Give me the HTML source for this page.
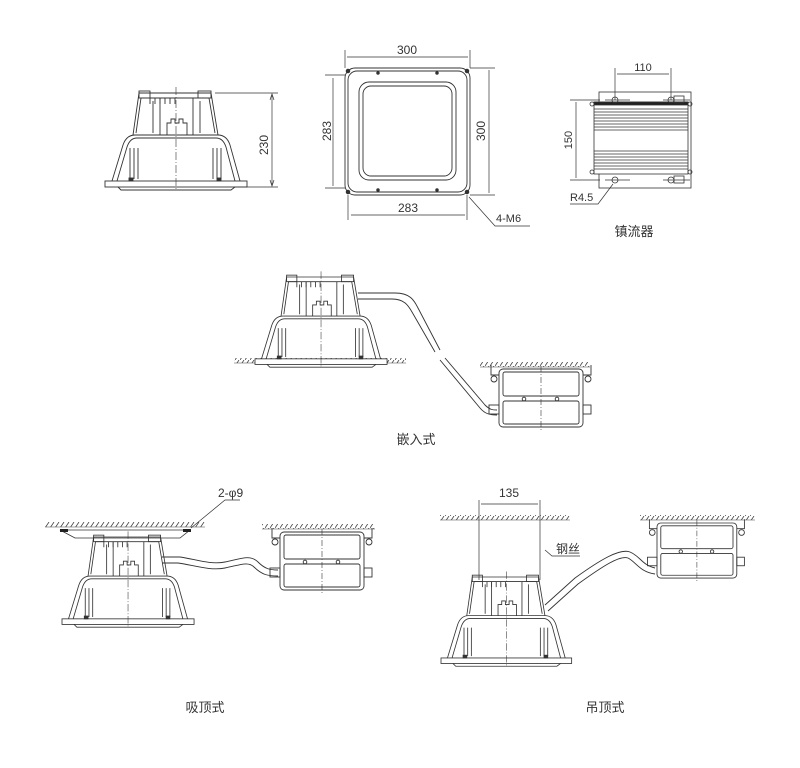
<!DOCTYPE html>
<html><head><meta charset="utf-8"><style>
html,body{margin:0;padding:0;background:#fff;}
svg{display:block;}
text{font-family:"Liberation Sans","Noto Sans CJK SC",sans-serif;fill:#333;}
</style></head><body>
<svg width="800" height="768" viewBox="0 0 800 768" xmlns="http://www.w3.org/2000/svg">
<defs>
<pattern id="h" width="5" height="6" patternUnits="userSpaceOnUse">
<line x1="0" y1="6" x2="4" y2="0" stroke="#444" stroke-width="0.8"/>
</pattern>
<g id="lamp" fill="none" stroke="#333" stroke-width="0.9">
<rect x="0" y="88" width="142" height="6" fill="#fff"/>
<path d="M13 94 L16 97 L126 97 L130 94"/>
<path d="M7 88 L18 52 C20 46 24 42 30 42 L113 42 C119 42 123 46 125 52 L135 88"/>
<path d="M12 88 L22 54 C24 48 27 45 32 45 L111 45 C116 45 119 48 121 54 L130 88"/>
<path d="M28 42 L34 0 L106 0 L113 42"/>
<path d="M31 40 L36 5 L104 5 L110 40"/>
<rect x="34" y="-2" width="11" height="7"/><rect x="93" y="-2" width="13" height="7"/>
<path d="M45 5 v6 M50 5v6 M55 5v6 M60 5v6 M65 5v6 M70 5v6"/>
<path d="M55 5 V42 M88 5 V42 M48 8 V40 M95 8 V40"/>
<path d="M62 42 V30 H66 V26 H70 V30 H74 V26 H78 V30 H82 V42"/>
<path d="M25 55 V86 M29 55 V86 M33 55 V86 M108 55 V86 M112 55 V86 M116 55 V86"/>
<rect x="24" y="85" width="4" height="3" fill="#333"/><rect x="112" y="85" width="4" height="3" fill="#333"/>
<line x1="71" y1="-6" x2="71" y2="98" stroke-dasharray="8 2 1 2" stroke-width="0.6"/>
</g>
<g id="box" fill="none" stroke="#333" stroke-width="0.9">
<rect x="0" y="0" width="84" height="58" rx="4" fill="#fff"/>
<rect x="4" y="3" width="76" height="24" rx="2"/>
<rect x="4" y="32" width="76" height="23" rx="2"/>
<circle cx="25" cy="30" r="1.8"/><circle cx="58" cy="30" r="1.8"/>
<path d="M-8 -4 v10 h8 M92 -4 v10 h-8"/>
<circle cx="-5" cy="10" r="3"/><circle cx="89" cy="10" r="3"/>
<line x1="42" y1="-3" x2="42" y2="62" stroke-dasharray="6 2 1 2" stroke-width="0.6"/>
<rect x="-10" y="36" width="10" height="9"/><rect x="84" y="36" width="8" height="9"/>
</g>
</defs>

<!-- Top-left lamp -->
<use href="#lamp" x="105" y="93"/>
<g stroke="#333" stroke-width="0.7" fill="none">
<line x1="215" y1="93" x2="278" y2="93"/><line x1="235" y1="187" x2="278" y2="187"/>
<line x1="272" y1="95" x2="272" y2="185"/>
<path d="M270 100 L272 94 L274 100 M270 180 L272 186 L274 180" />
</g>
<text x="268" y="145" font-size="12" transform="rotate(-90 268 145)" text-anchor="middle">230</text>

<!-- square panel -->
<g fill="none" stroke="#333" stroke-width="0.9">
<rect x="345" y="68" width="125" height="127" rx="10"/>
<rect x="348" y="71" width="119" height="121" rx="9"/>
<rect x="359" y="82" width="97" height="98" rx="10"/>
<rect x="363" y="86" width="89" height="90" rx="8"/>
<g fill="#333"><circle cx="348" cy="71" r="1.8"/><circle cx="467" cy="71" r="1.8"/><circle cx="348" cy="192" r="1.8"/><circle cx="467" cy="192" r="1.8"/>
<circle cx="378" cy="73" r="1.3"/><circle cx="437" cy="73" r="1.3"/><circle cx="378" cy="190" r="1.3"/><circle cx="437" cy="190" r="1.3"/></g>
</g>
<g stroke="#333" stroke-width="0.7" fill="none">
<line x1="345" y1="50" x2="345" y2="68"/><line x1="470" y1="50" x2="470" y2="68"/>
<line x1="347" y1="57" x2="468" y2="57"/>
<line x1="325" y1="75" x2="345" y2="75"/><line x1="325" y1="188" x2="345" y2="188"/>
<line x1="333" y1="78" x2="333" y2="186"/>
<line x1="470" y1="68" x2="495" y2="68"/><line x1="470" y1="195" x2="495" y2="195"/>
<line x1="489" y1="70" x2="489" y2="193"/>
<line x1="348" y1="195" x2="348" y2="220"/><line x1="467" y1="195" x2="467" y2="220"/>
<line x1="351" y1="215" x2="465" y2="215"/>
<path d="M469 197 L495 226 H530"/>
</g>
<text x="407" y="54" font-size="12" text-anchor="middle">300</text>
<text x="331" y="131" font-size="12" text-anchor="middle" transform="rotate(-90 331 131)">283</text>
<text x="485" y="131" font-size="12" text-anchor="middle" transform="rotate(-90 485 131)">300</text>
<text x="408" y="212" font-size="12" text-anchor="middle">283</text>
<text x="496" y="222" font-size="11">4-M6</text>

<!-- ballast top -->
<g fill="none" stroke="#333" stroke-width="0.8">
<rect x="599" y="92" width="92" height="96"/>
<rect x="594" y="102" width="94" height="72" fill="#fff"/>
<rect x="594" y="102" width="94" height="3" fill="#222"/>
<path d="M594 109H688 M594 112H688 M594 115H688 M594 118H688 M594 121H688 M594 124H688 M594 127H688 M594 130H688"/>
<path d="M594 151H688 M594 154H688 M594 157H688 M594 160H688 M594 163H688 M594 166H688 M594 169H688"/>
<rect x="612" y="97" width="6" height="6" rx="3"/><rect x="612" y="177" width="6" height="6" rx="3"/>
<circle cx="671" cy="100" r="3"/><circle cx="671" cy="180" r="3"/>
<path d="M663 100 H690 M663 180 H690 M605 100 H630 M605 180 H630"/>
<rect x="674" y="96" width="10" height="7"/><rect x="674" y="176" width="10" height="7"/>
<circle cx="592" cy="104" r="2"/><circle cx="690" cy="104" r="2"/><circle cx="592" cy="172" r="2"/><circle cx="690" cy="172" r="2"/>
</g>
<g stroke="#333" stroke-width="0.7" fill="none">
<line x1="615" y1="68" x2="615" y2="100"/><line x1="671" y1="68" x2="671" y2="100"/>
<line x1="617" y1="74" x2="669" y2="74"/>
<line x1="570" y1="100" x2="600" y2="100"/><line x1="570" y1="180" x2="600" y2="180"/>
<line x1="576" y1="102" x2="576" y2="178"/>
<path d="M613 184 L598 204 H570"/>
</g>
<text x="643" y="71" font-size="11" text-anchor="middle">110</text>
<text x="572" y="140" font-size="11" text-anchor="middle" transform="rotate(-90 572 140)">150</text>
<text x="570" y="201" font-size="11">R4.5</text>
<text x="634" y="236" font-size="13" text-anchor="middle">镇流器</text>

<!-- middle: recessed -->
<rect x="234" y="358" width="172" height="5" fill="url(#h)"/>
<line x1="234" y1="363" x2="406" y2="363" stroke="#444" stroke-width="0.6"/>
<g transform="translate(255,277) scale(0.93)"><use href="#lamp"/></g>
<path d="M358 293 H395 C410 293 414 300 418 308 L440 350 M445 358 L485 405 C490 410 493 410 497 410" fill="none" stroke="#333" stroke-width="0.9"/>
<path d="M358 299 H392 C404 299 408 305 412 312 L435 352 M440 360 L480 408 C485 414 490 415 497 415" fill="none" stroke="#333" stroke-width="0.9"/>
<rect x="480" y="362" width="110" height="5" fill="url(#h)"/>
<line x1="480" y1="367" x2="590" y2="367" stroke="#444" stroke-width="0.6"/>
<use href="#box" x="499" y="369"/>
<text x="416" y="444" font-size="13" text-anchor="middle">嵌入式</text>

<!-- bottom-left: surface -->
<rect x="45" y="522" width="160" height="5" fill="url(#h)"/>
<line x1="45" y1="527" x2="205" y2="527" stroke="#444" stroke-width="0.6"/>
<path d="M60 530 H190 L180 538 H75 Z" fill="none" stroke="#333" stroke-width="0.8"/>
<g fill="#222"><rect x="60" y="529" width="8" height="3"/><rect x="183" y="529" width="8" height="3"/></g>
<g transform="translate(62,537) scale(0.93)"><use href="#lamp"/></g>
<path d="M162 557 H180 C195 559 210 565 225 562 C240 559 250 554 258 562 C265 569 270 570 278 570" fill="none" stroke="#333" stroke-width="0.9"/>
<path d="M162 563 H178 C193 565 210 571 225 568 C240 565 248 561 254 567 C262 575 268 576 278 576" fill="none" stroke="#333" stroke-width="0.9"/>
<rect x="262" y="524" width="113" height="5" fill="url(#h)"/>
<line x1="262" y1="529" x2="375" y2="529" stroke="#444" stroke-width="0.6"/>
<use href="#box" x="280" y="532"/>
<path d="M191 528 L225 500 H240" fill="none" stroke="#333" stroke-width="0.7"/>
<text x="218" y="497" font-size="12">2-φ9</text>
<text x="205" y="712" font-size="13" text-anchor="middle">吸顶式</text>

<!-- bottom-right: suspended -->
<rect x="440" y="515" width="130" height="5" fill="url(#h)"/>
<line x1="440" y1="520" x2="570" y2="520" stroke="#444" stroke-width="0.6"/>
<g stroke="#333" stroke-width="0.7" fill="none">
<line x1="479" y1="500" x2="479" y2="580"/><line x1="540" y1="500" x2="540" y2="580"/>
<line x1="481" y1="504" x2="538" y2="504"/>
<path d="M545 550 L552 556 H580"/>
</g>
<text x="509" y="497" font-size="12" text-anchor="middle">135</text>
<text x="556" y="553" font-size="12">钢丝</text>
<g transform="translate(441,577) scale(0.92)"><use href="#lamp"/></g>
<path d="M545 605 L575 578 C600 560 620 548 630 552 C640 556 642 565 655 568" fill="none" stroke="#333" stroke-width="0.9"/>
<path d="M548 611 L578 584 C603 566 620 555 628 558 C636 562 640 572 655 574" fill="none" stroke="#333" stroke-width="0.9"/>
<rect x="640" y="515" width="115" height="5" fill="url(#h)"/>
<line x1="640" y1="520" x2="755" y2="520" stroke="#444" stroke-width="0.6"/>
<g transform="translate(657,523) scale(0.95)"><use href="#box"/></g>
<text x="605" y="712" font-size="13" text-anchor="middle">吊顶式</text>
</svg>
</body></html>
